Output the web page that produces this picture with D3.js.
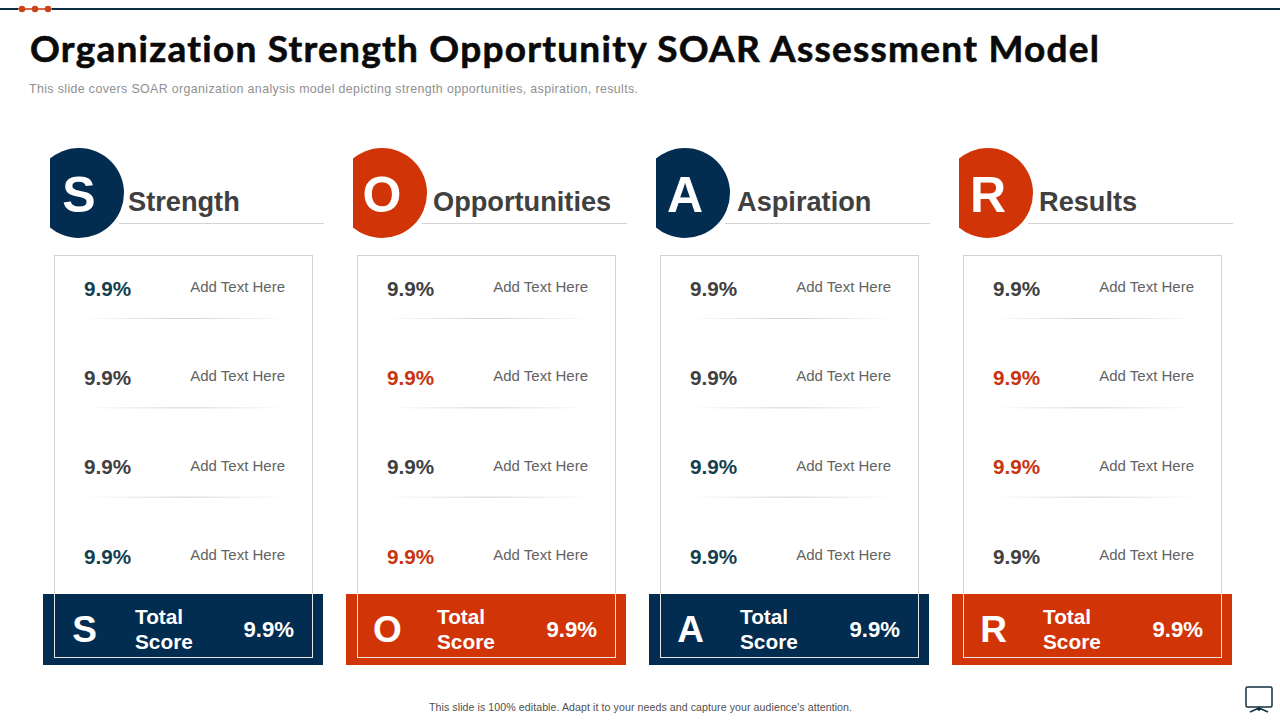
<!DOCTYPE html>
<html>
<head>
<meta charset="utf-8">
<script src="https://cdn.jsdelivr.net/npm/d3@7"></script>
<style>
  html, body { margin: 0; padding: 0; background: #fff; }
  svg { display: block; }
  text { font-family: "Liberation Sans", Arial, sans-serif; }
</style>
</head>
<body>
<div id="chart"></div>
<script>
// Data
var letters = ["S", "O", "A", "R"];
var categories = ["Strength", "Opportunities", "Aspiration", "Results"];
var rowIndex = [0, 1, 2, 3];
var strengthValues = [9.9, 9.9, 9.9, 9.9];
var opportunityValues = [9.9, 9.9, 9.9, 9.9];
var aspirationValues = [9.9, 9.9, 9.9, 9.9];
var resultValues = [9.9, 9.9, 9.9, 9.9];
var seriesValues = [strengthValues, opportunityValues, aspirationValues, resultValues];
var totalValues = [9.9, 9.9, 9.9, 9.9];
// which rows are highlighted in the column colour
var highlights = [[0, 3], [1, 3], [2, 3], [1, 2]];
var rowLabel = "Add Text Here";

var title = "Organization Strength Opportunity SOAR Assessment Model";
var subtitle = "This slide covers SOAR organization analysis model depicting strength opportunities, aspiration, results.";
var footer = "This slide is 100% editable. Adapt it to your needs and capture your audience's attention.";

// Colours
var navy = "#022c50", orange = "#d13507", teal = "#123f4f", gray = "#404040";
var fills = [navy, orange, navy, orange];
var accents = [teal, "#c8340e", teal, "#c8340e"];

var svg = d3.select("#chart")
  .append("svg")
  .attr("width", 1280)
  .attr("height", 720);

// Column and row scales
var x = d3.scalePoint().domain(d3.range(4)).range([54, 963]);
var y = d3.scalePoint().domain(rowIndex).range([288, 556]);
var fmt = function(v) { return d3.format(".1f")(v) + "%"; };

// Gradient for the row dividers
var grad = svg.append("defs").append("linearGradient").attr("id", "fade");
grad.append("stop").attr("offset", "0%").attr("stop-color", "#d0d0d0").attr("stop-opacity", 0);
grad.append("stop").attr("offset", "50%").attr("stop-color", "#d0d0d0").attr("stop-opacity", 1);
grad.append("stop").attr("offset", "100%").attr("stop-color", "#d0d0d0").attr("stop-opacity", 0);

// Top rule with dots
svg.append("rect").attr("x", 0).attr("y", 8).attr("width", 1280).attr("height", 2).attr("fill", "#0d2e42");
svg.append("rect").attr("x", 18).attr("y", 8).attr("width", 34).attr("height", 2).attr("fill", "#fff");
svg.append("line").attr("x1", 18).attr("x2", 52).attr("y1", 9).attr("y2", 9)
  .attr("stroke", orange).attr("stroke-width", 1.5);
svg.selectAll("circle.dot")
  .data([22, 35, 48])
  .enter()
  .append("circle")
  .attr("class", "dot")
  .attr("cx", function(d) { return d; })
  .attr("cy", 9)
  .attr("r", 3.2)
  .attr("fill", "#c8421a");

// Title block
svg.append("text")
  .attr("x", 30).attr("y", 62)
  .attr("font-size", 37).attr("font-weight", 700)
  .style("font-family", "Lato, 'Liberation Sans', sans-serif")
  .style("font-variant-ligatures", "none")
  .attr("textLength", 1069)
  .attr("fill", "#0a0a0a")
  .attr("stroke", "#0a0a0a")
  .attr("stroke-width", 0.6)
  .text(title);

svg.append("text")
  .attr("x", 29).attr("y", 93)
  .attr("font-size", 12.4)
  .attr("textLength", 609)
  .attr("fill", "#909090")
  .text(subtitle);

// One group per column
var cols = svg.selectAll("g.col")
  .data(categories)
  .enter()
  .append("g")
  .attr("class", "col")
  .attr("transform", function(d, i) { return "translate(" + x(i) + ",0)"; });

// Clip for the cut-off header circles
svg.select("defs").append("clipPath").attr("id", "circleClip")
  .append("rect").attr("x", -4).attr("y", 140).attr("width", 100).attr("height", 110);

cols.append("line")
  .attr("x1", 65).attr("x2", 270)
  .attr("y1", 223.5).attr("y2", 223.5)
  .attr("stroke", "#d4d4d4");

cols.append("circle")
  .attr("cx", 25).attr("cy", 193).attr("r", 45)
  .attr("clip-path", "url(#circleClip)")
  .attr("fill", function(d, i) { return fills[i]; });

cols.append("text")
  .attr("x", 25).attr("y", 212)
  .attr("text-anchor", "middle")
  .attr("font-size", 50).attr("font-weight", 700)
  .attr("fill", "#fff")
  .text(function(d, i) { return letters[i]; });

cols.append("text")
  .attr("x", function(d, i) { return [74, 76, 77, 76][i]; })
  .attr("y", 211)
  .attr("font-size", 27.2).attr("font-weight", 700)
  .attr("fill", gray)
  .text(function(d) { return d; });

// Total score band sits behind the card outline
cols.append("rect")
  .attr("x", -11).attr("y", 594)
  .attr("width", 280).attr("height", 71)
  .attr("fill", function(d, i) { return fills[i]; });

cols.append("rect")
  .attr("x", 0.5).attr("y", 255.5)
  .attr("width", 258).attr("height", 402)
  .attr("fill", "none")
  .attr("stroke", "#d2d2d2");

// Light part of the outline over the band
cols.append("path")
  .attr("d", "M0.5,594V657.5H258.5V594")
  .attr("fill", "none")
  .attr("stroke", "#e6e6e6");

cols.each(function(d, i) {
  var g = d3.select(this);

  g.selectAll("text.value")
    .data(seriesValues[i])
    .enter()
    .append("text")
    .attr("class", "value")
    .attr("x", 30)
    .attr("y", function(v, r) { return y(r) + 7.5; })
    .attr("font-size", 20.7).attr("font-weight", 700)
    .attr("fill", function(v, r) { return highlights[i].indexOf(r) >= 0 ? accents[i] : gray; })
    .text(fmt);

  g.selectAll("text.label")
    .data(rowIndex)
    .enter()
    .append("text")
    .attr("class", "label")
    .attr("x", 231)
    .attr("y", function(r) { return y(r) + 4; })
    .attr("text-anchor", "end")
    .attr("font-size", 15)
    .attr("fill", "#636363")
    .text(rowLabel);

  g.selectAll("rect.divider")
    .data(rowIndex.slice(0, 3))
    .enter()
    .append("rect")
    .attr("class", "divider")
    .attr("x", 28)
    .attr("y", function(r) { return y(r) + 30; })
    .attr("width", 206)
    .attr("height", 1)
    .attr("fill", "url(#fade)");
});

// Total score contents
cols.append("text")
  .attr("x", 30.5).attr("y", 642)
  .attr("text-anchor", "middle")
  .attr("font-size", 37).attr("font-weight", 700)
  .attr("fill", "#fff")
  .text(function(d, i) { return letters[i]; });

var totalX = [81, 80, 80, 80];
cols.append("text")
  .attr("x", function(d, i) { return totalX[i]; })
  .attr("y", 624)
  .attr("font-size", 20.8).attr("font-weight", 700)
  .attr("fill", "#fff")
  .text("Total");

cols.append("text")
  .attr("x", function(d, i) { return totalX[i]; })
  .attr("y", 649)
  .attr("font-size", 20.8).attr("font-weight", 700)
  .attr("fill", "#fff")
  .text("Score");

cols.append("text")
  .attr("x", 240).attr("y", 637)
  .attr("text-anchor", "end")
  .attr("font-size", 22.2).attr("font-weight", 700)
  .attr("fill", "#fff")
  .text(function(d, i) { return fmt(totalValues[i]); });

// Footer
svg.append("text")
  .attr("x", 429).attr("y", 711)
  .attr("font-size", 10.6)
  .attr("textLength", 423)
  .attr("fill", "#505050")
  .text(footer);

// Comment icon, bottom right
var icon = svg.append("g").attr("fill", "none").attr("stroke", "#12303f").attr("stroke-width", 1.5);
icon.append("rect").attr("x", 1246).attr("y", 687).attr("width", 26).attr("height", 20).attr("rx", 1.5).attr("fill", "#fff");
icon.append("path").attr("d", "M1259,707V711M1259,708L1250,712M1259,708L1268,712");
</script>
</body>
</html>
